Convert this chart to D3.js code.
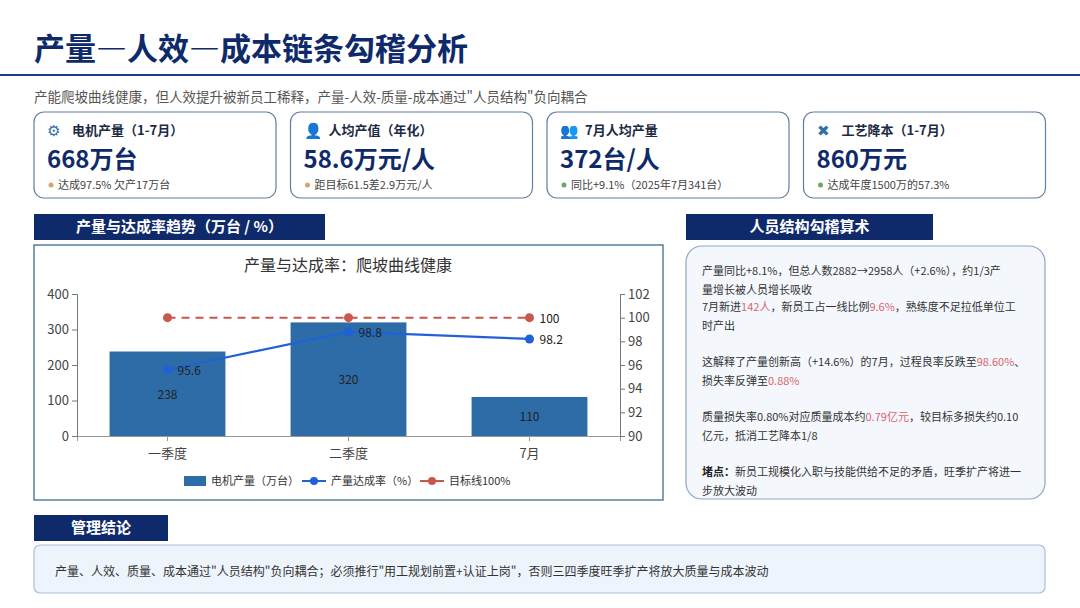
<!DOCTYPE html>
<html lang="zh">
<head>
<meta charset="UTF-8">
<style>
  body { margin:0; width:1080px; height:608px; background:#fff; font-family:"Noto Sans CJK SC","Noto Sans",sans-serif; overflow:hidden; }
  svg { display:block; }
</style>
</head>
<body>
<svg id="page" width="1080" height="608"></svg>
<script src="https://d3js.org/d3.v7.min.js"></script>
<script>
// data
const categories = ["一季度", "二季度", "7月"];
const output = [238, 320, 110];          // 电机产量(万台)
const rate = [95.6, 98.8, 98.2];         // 产量达成率(%)
const target = [100, 100, 100];          // 目标线
const leftTicks = [0, 100, 200, 300, 400];
const rightTicks = [90, 92, 94, 96, 98, 100, 102];

const cards = [
  {icon:"⚙", title:"电机产量（1-7月）", value:"668万台", note:"达成97.5% 欠产17万台", dot:"#d9a36a"},
  {icon:"👤", title:"人均产值（年化）", value:"58.6万元/人", note:"距目标61.5差2.9万元/人", dot:"#d9a36a"},
  {icon:"👥", title:"7月人均产量", value:"372台/人", note:"同比+9.1%（2025年7月341台）", dot:"#6aa86a"},
  {icon:"✖", title:"工艺降本（1-7月）", value:"860万元", note:"达成年度1500万的57.3%", dot:"#6aa86a"}
];

const notes = [
  [["产量同比+8.1%，但总人数2882→2958人（+2.6%），约1/3产"],["量增长被人员增长吸收"]],
  [["7月新进",0],["142人",1],["，新员工占一线比例",0],["9.6%",1],["，熟练度不足拉低单位工",0],null,["时产出",0]],
  [["这解释了产量创新高（+14.6%）的7月，过程良率反跌至",0],["98.60%",1],["、",0],null,["损失率反弹至",0],["0.88%",1]],
  [["质量损失率0.80%对应质量成本约",0],["0.79亿元",1],["，较目标多损失约0.10",0],null,["亿元，抵消工艺降本1/8",0]],
  [["堵点：",2],["新员工规模化入职与技能供给不足的矛盾，旺季扩产将进一",0],null,["步放大波动",0]]
];

const navy = "#0f2a6b";
const svg = d3.select("#page");

// title
svg.append("text").attr("x",34).attr("y",60).attr("font-size",31).attr("font-weight",700)
  .attr("fill",navy).text("产量—人效—成本链条勾稽分析");
svg.append("rect").attr("x",0).attr("y",74).attr("width",1080).attr("height",2).attr("fill","#1a3f8f");
svg.append("text").attr("x",34).attr("y",102).attr("font-size",13.5).attr("fill","#555")
  .text("产能爬坡曲线健康，但人效提升被新员工稀释，产量-人效-质量-成本通过\"人员结构\"负向耦合");

// cards
cards.forEach((c,i) => {
  const x = 34 + i*256.5, g = svg.append("g").attr("transform",`translate(${x},112)`);
  g.append("rect").attr("width",242).attr("height",86).attr("rx",10).attr("fill","#fff")
    .attr("stroke","#5f7f9f").attr("stroke-width",1.2);
  g.append("text").attr("x",13).attr("y",24).attr("font-size",15).attr("fill","#2f6fa8").text(c.icon);
  g.append("text").attr("x",38).attr("y",23).attr("font-size",13).attr("font-weight",700).attr("fill","#1d2a44").text(c.title);
  g.append("text").attr("x",13).attr("y",56).attr("font-size",24).attr("font-weight",700).attr("fill",navy).text(c.value);
  g.append("circle").attr("cx",17).attr("cy",73).attr("r",2.5).attr("fill",c.dot);
  g.append("text").attr("x",24).attr("y",77).attr("font-size",11).attr("fill","#444").text(c.note);
});

// section headers
function header(x, y, w, label) {
  svg.append("rect").attr("x",x).attr("y",y).attr("width",w).attr("height",26).attr("fill","#0f2a6b");
  svg.append("text").attr("x",x+w/2).attr("y",y+18).attr("text-anchor","middle").attr("font-size",15)
    .attr("font-weight",700).attr("fill","#fff").text(label);
}
header(34, 214, 291, "产量与达成率趋势（万台 / %）");
header(686, 214, 247, "人员结构勾稽算术");
header(34, 515, 134, "管理结论");

// chart box
svg.append("rect").attr("x",34).attr("y",245).attr("width",629).attr("height",255).attr("fill","#fff")
  .attr("stroke","#3d6b8c").attr("stroke-width",1.3);
svg.append("text").attr("x",348).attr("y",271).attr("text-anchor","middle").attr("font-size",16)
  .attr("fill","#333").text("产量与达成率：爬坡曲线健康");

const x = d3.scaleBand().domain(categories).range([77, 620]).paddingInner(0.36).paddingOuter(0.18);
const yL = d3.scaleLinear().domain([0,400]).range([436,294]);
const yR = d3.scaleLinear().domain([90,102]).range([436,294]);
const cx = d => x(d) + x.bandwidth()/2;

const ax = svg.append("g").attr("font-family","inherit");
ax.append("g").attr("transform","translate(0,436)")
  .call(d3.axisBottom(x).tickSizeOuter(0).tickSize(5))
  .call(g => g.selectAll("text").attr("font-size",13).attr("fill","#444").attr("dy","1.1em"))
  .call(g => g.selectAll("line,path").attr("stroke","#999"));
ax.append("g").attr("transform","translate(77,0)")
  .call(d3.axisLeft(yL).tickValues(leftTicks).tickSize(5))
  .call(g => g.selectAll("text").attr("font-size",13).attr("fill","#444"))
  .call(g => g.selectAll("line,path").attr("stroke","#777"));
ax.append("g").attr("transform","translate(620,0)")
  .call(d3.axisRight(yR).tickValues(rightTicks).tickSize(5))
  .call(g => g.selectAll("text").attr("font-size",13).attr("fill","#444"))
  .call(g => g.selectAll("line,path").attr("stroke","#777"));
svg.selectAll(".tick text").attr("font-family","Noto Sans CJK SC, sans-serif");

svg.append("g").selectAll("rect").data(output).join("rect")
  .attr("x",(d,i)=>x(categories[i])).attr("y",d=>yL(d))
  .attr("width",x.bandwidth()).attr("height",d=>436-yL(d)).attr("fill","#2e6ca8");
svg.append("g").selectAll("text").data(output).join("text")
  .attr("x",(d,i)=>cx(categories[i])).attr("y",d=>(yL(d)+436)/2+5).attr("text-anchor","middle")
  .attr("font-size",12).attr("fill","#222").text(d=>d);

const line = d3.line().x((d,i)=>cx(categories[i]));
svg.append("path").attr("d",line.y(d=>yR(d))(target)).attr("fill","none")
  .attr("stroke","#c9574d").attr("stroke-width",2).attr("stroke-dasharray","8,6");
svg.append("g").selectAll("circle").data(target).join("circle")
  .attr("cx",(d,i)=>cx(categories[i])).attr("cy",d=>yR(d)).attr("r",4.5).attr("fill","#c9574d");
svg.append("g").selectAll("text").data(target).join("text")
  .attr("x",(d,i)=>cx(categories[i])+10).attr("y",d=>yR(d)+5)
  .attr("font-size",12).attr("fill","#222").text((d,i)=>i===2?d:"");

svg.append("path").attr("d",line.y(d=>yR(d))(rate)).attr("fill","none")
  .attr("stroke","#1f62d6").attr("stroke-width",2.2);
svg.append("g").selectAll("circle").data(rate).join("circle")
  .attr("cx",(d,i)=>cx(categories[i])).attr("cy",d=>yR(d)).attr("r",4.5).attr("fill","#1f62d6");
svg.append("g").selectAll("text").data(rate).join("text")
  .attr("x",(d,i)=>cx(categories[i])+10).attr("y",d=>yR(d)+5)
  .attr("font-size",12).attr("fill","#222").text(d=>d);

// legend
const lg = svg.append("g").attr("transform","translate(184,481)");
lg.append("rect").attr("x",0).attr("y",-5).attr("width",22).attr("height",10).attr("fill","#2e6ca8");
lg.append("text").attr("x",27).attr("y",4).attr("font-size",11).attr("fill","#333").text("电机产量（万台）");
lg.append("line").attr("x1",118).attr("x2",142).attr("stroke","#1f62d6").attr("stroke-width",2);
lg.append("circle").attr("cx",130).attr("r",4).attr("fill","#1f62d6");
lg.append("text").attr("x",147).attr("y",4).attr("font-size",11).attr("fill","#333").text("产量达成率（%）");
lg.append("line").attr("x1",236).attr("x2",260).attr("stroke","#c9574d").attr("stroke-width",2);
lg.append("circle").attr("cx",248).attr("r",4).attr("fill","#c9574d");
lg.append("text").attr("x",265).attr("y",4).attr("font-size",11).attr("fill","#333").text("目标线100%");

// right notes box
svg.append("rect").attr("x",686).attr("y",246).attr("width",359).attr("height",253).attr("rx",16)
  .attr("fill","#f4f8fd").attr("stroke","#8ea6c2").attr("stroke-width",1.2);
const colors = ["#333","#d9646a","#222"];
let ny = 275;
notes.forEach(par => {
  let t = svg.append("text").attr("x",702).attr("y",ny).attr("font-size",11).attr("fill","#333");
  par.forEach(seg => {
    if (seg === null) { ny += 19; t = svg.append("text").attr("x",702).attr("y",ny).attr("font-size",11); return; }
    const k = seg[1] || 0;
    t.append("tspan").attr("fill",colors[k]).attr("font-weight",k===2?700:400).text(seg[0]);
  });
  ny += 19 + 17;
});
// first paragraph has two separate line arrays
svg.selectAll("text").filter(function(){ return this.textContent === "产量同比+8.1%，但总人数2882→2958人（+2.6%），约1/3产量增长被人员增长吸收"; })
  .each(function(){
    const el = d3.select(this); el.selectAll("tspan").remove();
    el.append("tspan").attr("x",702).text("产量同比+8.1%，但总人数2882→2958人（+2.6%），约1/3产");
    el.append("tspan").attr("x",702).attr("dy",19).text("量增长被人员增长吸收");
  });

// bottom conclusion
svg.append("rect").attr("x",34).attr("y",545).attr("width",1011).attr("height",48).attr("rx",6)
  .attr("fill","#eef4fb").attr("stroke","#a7bfdc").attr("stroke-width",1.2);
svg.append("text").attr("x",55).attr("y",576).attr("font-size",12).attr("fill","#333")
  .text("产量、人效、质量、成本通过\"人员结构\"负向耦合；必须推行\"用工规划前置+认证上岗\"，否则三四季度旺季扩产将放大质量与成本波动");
</script>
</body>
</html>
